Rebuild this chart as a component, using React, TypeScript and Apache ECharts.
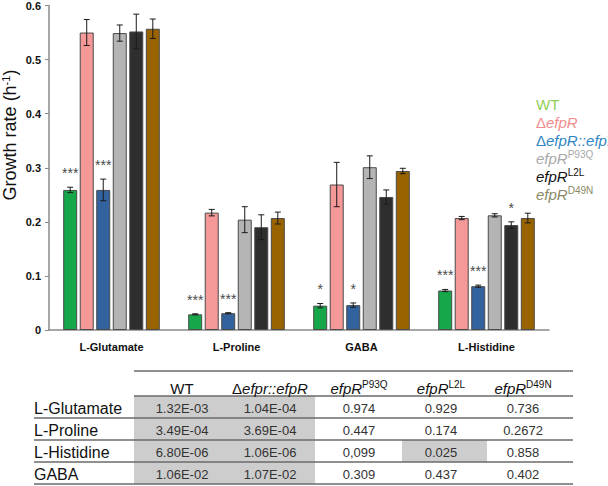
import React, { useEffect, useRef } from "react";
import * as echarts from "echarts";

const FONT = '"Liberation Sans", Arial, Helvetica, sans-serif';

// ---- chart data ----
const categories = ["L-Glutamate", "L-Proline", "GABA", "L-Histidine"];
const strainNames = ["WT", "ΔefpR", "ΔefpR::efpR", "efpR P93Q", "efpR L2L", "efpR D49N"];
const wtVals = [0.259, 0.029, 0.045, 0.073];
const wtErr = [0.005, 0.001, 0.004, 0.002];
const delVals = [0.55, 0.217, 0.269, 0.207];
const delErr = [0.024, 0.006, 0.041, 0.003];
const compVals = [0.259, 0.031, 0.046, 0.081];
const compErr = [0.02, 0.001, 0.004, 0.002];
const p93qVals = [0.549, 0.204, 0.301, 0.212];
const p93qErr = [0.015, 0.024, 0.021, 0.003];
const l2lVals = [0.552, 0.19, 0.246, 0.194];
const l2lErr = [0.032, 0.023, 0.013, 0.006];
const d49nVals = [0.557, 0.207, 0.294, 0.207];
const d49nErr = [0.018, 0.011, 0.005, 0.009];
const wtSig = ["***", "***", "*", "***"];
const delSig = ["", "", "", ""];
const compSig = ["***", "***", "*", "***"];
const p93qSig = ["", "", "", ""];
const l2lSig = ["", "", "", "*"];
const d49nSig = ["", "", "", ""];
const yTicks = [0, 0.1, 0.2, 0.3, 0.4, 0.5, 0.6];

// ---- table data ----
const tableRows = ["L-Glutamate", "L-Proline", "L-Histidine", "GABA"];
const pWT = ["1.32E-03", "3.49E-04", "6.80E-06", "1.06E-02"];
const pComp = ["1.04E-04", "3.69E-04", "1.06E-06", "1.07E-02"];
const pP93Q = ["0.974", "0.447", "0,099", "0.309"];
const pL2L = ["0.929", "0.174", "0.025", "0.437"];
const pD49N = ["0.736", "0.2672", "0.858", "0.402"];
const pSignificant = [
  [true, true, false, false, false],
  [true, true, false, false, false],
  [true, true, false, true, false],
  [true, true, false, false, false],
];

const barColors = ["#17a74b", "#f59898", "#33639e", "#b4b4b4", "#2e2e2e", "#996300"];
const legendColors = ["#8fcf58", "#f28c8c", "#2f86c3", "#a8a8a8", "#111111", "#8a8a64"];

const BAR_W = 14;
const BAR_GAP = 0.18;
const STEP = BAR_W * (1 + BAR_GAP);

export default function App() {
  const ref = useRef<HTMLDivElement>(null);

  useEffect(() => {
    if (!ref.current) return;
    const chart = echarts.init(ref.current, null, { renderer: "svg" });

    const vals = [wtVals, delVals, compVals, p93qVals, l2lVals, d49nVals];
    const errs = [wtErr, delErr, compErr, p93qErr, l2lErr, d49nErr];
    const sigs = [wtSig, delSig, compSig, p93qSig, l2lSig, d49nSig];

    const barSeries = vals.map((v, i) => ({
      type: "bar",
      name: strainNames[i],
      data: v,
      barWidth: BAR_W,
      barGap: BAR_GAP * 100 + "%",
      itemStyle: { color: barColors[i], borderColor: "#4a4a4a", borderWidth: 1 },
      z: 2,
    }));

    const errSeries = vals.map((v, si) => ({
      type: "custom",
      name: strainNames[si] + " err",
      data: v.map((val, ci) => [ci, val, errs[si][ci]]),
      encode: { x: 0, y: 1 },
      z: 5,
      renderItem: (params: any, api: any) => {
        const ci = api.value(0);
        const val = api.value(1);
        const e = api.value(2);
        const base = api.coord([ci, 0]);
        const x = base[0] + (si - 2.5) * STEP;
        const yt = api.coord([ci, val + e])[1];
        const yb = api.coord([ci, val - e])[1];
        const st = { stroke: "#1a1a1a", lineWidth: 1 };
        const children: any[] = [
          { type: "line", shape: { x1: x, y1: yt, x2: x, y2: yb }, style: st },
          { type: "line", shape: { x1: x - 3, y1: yt, x2: x + 3, y2: yt }, style: st },
          { type: "line", shape: { x1: x - 3, y1: yb, x2: x + 3, y2: yb }, style: st },
        ];
        const s = sigs[si][params.dataIndex];
        if (s) {
          children.push({
            type: "text",
            x,
            y: yt - 7,
            style: {
              text: s,
              fill: "#4a4a4a",
              fontSize: 14,
              fontFamily: FONT,
              align: "center",
              verticalAlign: "bottom",
            },
          });
        }
        return { type: "group", children };
      },
    }));

    const graphic: any[] = [];

    // y-axis title
    graphic.push({
      type: "text",
      x: 10,
      y: 135,
      rotation: Math.PI / 2,
      style: {
        text: "{m|Growth rate (h}{s|-1}{m|)}",
        align: "center",
        verticalAlign: "middle",
        rich: {
          m: { fontSize: 18, fontFamily: FONT, fill: "#111", lineHeight: 20 },
          s: { fontSize: 11, fontFamily: FONT, fill: "#111", verticalAlign: "top", lineHeight: 13 },
        },
      },
    });

    // legend
    const legendTexts = [
      "{n0|WT}",
      "{n1|Δ}{i1|efpR}",
      "{n2|Δ}{i2|efpR::efpR}",
      "{i3|efpR}{s3|P93Q}",
      "{i4|efpR}{s4|L2L}",
      "{i5|efpR}{s5|D49N}",
    ];
    const legendRich: any = {};
    legendColors.forEach((c, i) => {
      legendRich["n" + i] = { fontSize: 15, fontFamily: FONT, fill: c, lineHeight: 18 };
      legendRich["i" + i] = { fontSize: 15, fontFamily: FONT, fill: c, fontStyle: "italic", lineHeight: 18 };
      legendRich["s" + i] = { fontSize: 10, fontFamily: FONT, fill: c, verticalAlign: "top", lineHeight: 14 };
    });
    legendTexts.forEach((t, i) => {
      graphic.push({
        type: "text",
        x: 536,
        y: 104 + i * 18,
        style: { text: t, align: "left", verticalAlign: "middle", rich: legendRich },
      });
    });

    // table
    const tLeft = 134;
    const tRight = 573;
    const labelX = 34;
    const topLineY = 371;
    const headY = 388;
    const headLineY = 396;
    const rowH = 22;
    const colCenters = [182, 270, 359, 441, 523];
    const colEdges = [134, 226, 315, 402, 487, 573];
    const lineColor = "#6a6a6a";

    tableRows.forEach((_, r) => {
      pSignificant[r].forEach((sig, c) => {
        if (!sig) return;
        graphic.push({
          type: "rect",
          z: 1,
          shape: { x: colEdges[c], y: headLineY + r * rowH, width: colEdges[c + 1] - colEdges[c], height: rowH },
          style: { fill: "#cdcdcd" },
        });
      });
    });

    graphic.push({
      type: "line",
      z: 3,
      shape: { x1: tLeft, y1: topLineY, x2: tRight, y2: topLineY },
      style: { stroke: lineColor, lineWidth: 1.5 },
    });
    graphic.push({
      type: "line",
      z: 3,
      shape: { x1: tLeft, y1: headLineY, x2: tRight, y2: headLineY },
      style: { stroke: lineColor, lineWidth: 1.5 },
    });
    tableRows.forEach((_, r) => {
      const y = headLineY + (r + 1) * rowH;
      graphic.push({
        type: "line",
        z: 3,
        shape: { x1: labelX, y1: y, x2: tRight, y2: y },
        style: { stroke: lineColor, lineWidth: 1.5 },
      });
    });

    const headRich = {
      n: { fontSize: 15, fontFamily: FONT, fill: "#111", lineHeight: 18 },
      i: { fontSize: 15, fontFamily: FONT, fill: "#111", fontStyle: "italic", lineHeight: 18 },
      s: { fontSize: 10, fontFamily: FONT, fill: "#111", verticalAlign: "top", lineHeight: 14 },
    };
    const headers = ["{n|WT}", "{n|Δ}{i|efpr::efpR}", "{i|efpR}{s|P93Q}", "{i|efpR}{s|L2L}", "{i|efpR}{s|D49N}"];
    headers.forEach((h, c) => {
      graphic.push({
        type: "text",
        z: 4,
        x: colCenters[c],
        y: headY,
        style: { text: h, align: "center", verticalAlign: "middle", rich: headRich },
      });
    });

    const cols = [pWT, pComp, pP93Q, pL2L, pD49N];
    tableRows.forEach((name, r) => {
      const cy = headLineY + r * rowH + rowH / 2 + 1;
      graphic.push({
        type: "text",
        z: 4,
        x: labelX,
        y: cy,
        style: { text: name, fontSize: 16, fontFamily: FONT, fill: "#111", align: "left", verticalAlign: "middle" },
      });
      cols.forEach((col, c) => {
        graphic.push({
          type: "text",
          z: 4,
          x: colCenters[c],
          y: cy,
          style: { text: col[r], fontSize: 13, fontFamily: FONT, fill: "#333", align: "center", verticalAlign: "middle" },
        });
      });
    });

    chart.setOption({
      animation: false,
      grid: { left: 49, right: 59, top: 3, bottom: 156, containLabel: false },
      xAxis: {
        type: "category",
        data: categories,
        axisLine: { lineStyle: { color: "#8a8a8a", width: 1.5 } },
        axisTick: { show: false },
        axisLabel: { fontFamily: FONT, fontSize: 11, fontWeight: "bold", color: "#111", margin: 11 },
      },
      yAxis: {
        type: "value",
        min: yTicks[0],
        max: yTicks[yTicks.length - 1],
        interval: 0.1,
        splitLine: { show: false },
        axisLine: { show: true, lineStyle: { color: "#8a8a8a", width: 1.5 } },
        axisTick: { show: true, length: 4, lineStyle: { color: "#8a8a8a" } },
        axisLabel: {
          fontFamily: FONT,
          fontSize: 11,
          fontWeight: "bold",
          color: "#111",
          margin: 8,
          formatter: (v: number) => (v === 0 ? "0" : v.toFixed(1)),
        },
      },
      series: [...barSeries, ...errSeries],
      graphic,
    } as any);

    return () => chart.dispose();
  }, []);

  return (
    <div
      ref={ref}
      style={{ position: "absolute", left: 0, top: 0, width: 608, height: 486, background: "#fff" }}
    />
  );
}
